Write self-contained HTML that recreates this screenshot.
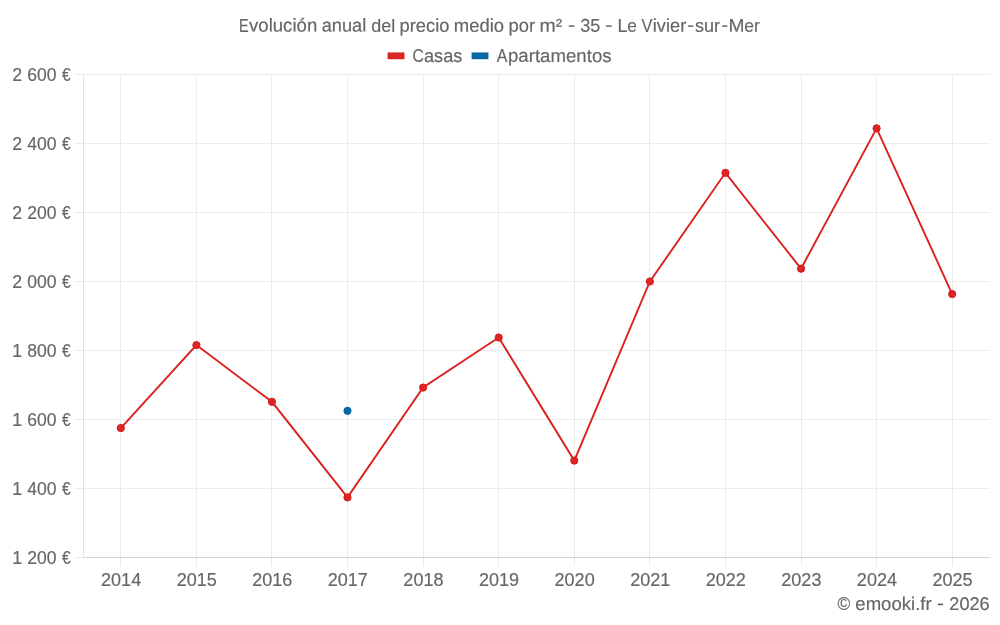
<!DOCTYPE html>
<html lang="es"><head><meta charset="utf-8"><title>Evolución anual del precio medio por m² - 35 - Le Vivier-sur-Mer</title>
<style>html,body{margin:0;padding:0;background:#fff;}body{width:1000px;height:625px;overflow:hidden;}svg{display:block;will-change:transform;}text{font-family:"Liberation Sans",sans-serif;font-size:18.5px;fill:#666;stroke:#666;stroke-width:.17px;}</style></head><body>
<svg width="1000" height="625" viewBox="0 0 1000 625">
<rect width="1000" height="625" fill="#fff"/>
<g shape-rendering="crispEdges" fill="#ececec">
<rect x="120" y="74" width="1" height="492"/>
<rect x="196" y="74" width="1" height="492"/>
<rect x="271" y="74" width="1" height="492"/>
<rect x="347" y="74" width="1" height="492"/>
<rect x="423" y="74" width="1" height="492"/>
<rect x="498" y="74" width="1" height="492"/>
<rect x="574" y="74" width="1" height="492"/>
<rect x="649" y="74" width="1" height="492"/>
<rect x="725" y="74" width="1" height="492"/>
<rect x="801" y="74" width="1" height="492"/>
<rect x="876" y="74" width="1" height="492"/>
<rect x="952" y="74" width="1" height="492"/>
<rect x="75" y="74" width="915" height="1"/>
<rect x="75" y="143" width="915" height="1"/>
<rect x="75" y="212" width="915" height="1"/>
<rect x="75" y="281" width="915" height="1"/>
<rect x="75" y="350" width="915" height="1"/>
<rect x="75" y="419" width="915" height="1"/>
<rect x="75" y="488" width="915" height="1"/>
<rect x="75" y="557" width="915" height="1"/>
<rect x="83" y="74" width="1" height="483" fill="#e3e3e3"/>
<rect x="83" y="74" width="1" height="1" fill="#dfdfdf"/>
<rect x="83" y="557" width="908" height="1"/>
<rect x="83" y="557" width="907" height="1" fill="#d4d4d4"/>
</g>
<text y="31.70" transform="matrix(1 0.0005 0 1 0 -0.2500)"><tspan x="239.10" y="31.70" textLength="9.66" lengthAdjust="spacingAndGlyphs">E</tspan><tspan x="249.00" y="31.70" textLength="68.25" lengthAdjust="spacingAndGlyphs">volución</tspan> <tspan x="321.69" y="31.70" textLength="44.58" lengthAdjust="spacingAndGlyphs">anual</tspan> <tspan x="371.17" y="31.70" textLength="23.99" lengthAdjust="spacingAndGlyphs">del</tspan> <tspan x="399.59" y="31.70" textLength="49.79" lengthAdjust="spacingAndGlyphs">precio</tspan> <tspan x="453.75" y="31.70" textLength="50.33" lengthAdjust="spacingAndGlyphs">medio</tspan> <tspan x="508.54" y="31.70" textLength="26.56" lengthAdjust="spacingAndGlyphs">por</tspan> <tspan x="539.60" y="31.70" textLength="22.72" lengthAdjust="spacingAndGlyphs">m²</tspan> <tspan x="567.91" y="31.00" textLength="7.26" lengthAdjust="spacingAndGlyphs">-</tspan> <tspan x="580.16" y="31.70" textLength="20.14" lengthAdjust="spacingAndGlyphs">35</tspan> <tspan x="604.91" y="31.00" textLength="7.62" lengthAdjust="spacingAndGlyphs">-</tspan> <tspan x="617.60" y="31.70" textLength="9.96" lengthAdjust="spacingAndGlyphs">L</tspan><tspan x="627.34" y="31.70" textLength="9.64" lengthAdjust="spacingAndGlyphs">e</tspan> <tspan x="641.57" y="31.70" textLength="10.94" lengthAdjust="spacingAndGlyphs">V</tspan><tspan x="652.82" y="31.70" textLength="33.39" lengthAdjust="spacingAndGlyphs">ivier</tspan><tspan x="687.17" y="31.00" textLength="6.90" lengthAdjust="spacingAndGlyphs">-</tspan><tspan x="695.05" y="31.70" textLength="25.09" lengthAdjust="spacingAndGlyphs">sur</tspan><tspan x="721.17" y="31.00" textLength="6.90" lengthAdjust="spacingAndGlyphs">-</tspan><tspan x="728.56" y="31.70" textLength="16.04" lengthAdjust="spacingAndGlyphs">M</tspan><tspan x="744.31" y="31.70" textLength="15.55" lengthAdjust="spacingAndGlyphs">er</tspan></text>
<rect x="387.6" y="52.45" width="16.85" height="6.75" fill="#da1c1c"/><rect x="388.6" y="53" width="14.8" height="5" fill="#db2727"/>
<text y="61.90" transform="matrix(1 0.0005 0 1 0 -0.2185)"><tspan x="412.58" y="61.90" textLength="11.31" lengthAdjust="spacingAndGlyphs">C</tspan><tspan x="423.97" y="61.90" textLength="38.46" lengthAdjust="spacingAndGlyphs">asas</tspan></text>
<rect x="471.6" y="52.45" width="16.85" height="6.75" fill="#0565a3"/><rect x="472.6" y="53" width="14.8" height="5" fill="#0769a5"/>
<text y="61.90" transform="matrix(1 0.0005 0 1 0 -0.2770)"><tspan x="496.80" y="61.90" textLength="10.65" lengthAdjust="spacingAndGlyphs">A</tspan><tspan x="507.94" y="61.90" textLength="103.67" lengthAdjust="spacingAndGlyphs">partamentos</tspan></text>
<text y="80.55" transform="matrix(1 0.0005 0 1 0 -0.0210)"><tspan x="12.32" y="80.55" textLength="9.88" lengthAdjust="spacingAndGlyphs">2</tspan> <tspan x="27.13" y="80.55" textLength="29.32" lengthAdjust="spacingAndGlyphs">600</tspan> <tspan x="61.90" y="80.55" textLength="8.66" lengthAdjust="spacingAndGlyphs">€</tspan></text>
<text y="149.55" transform="matrix(1 0.0005 0 1 0 -0.0210)"><tspan x="12.32" y="149.55" textLength="9.88" lengthAdjust="spacingAndGlyphs">2</tspan> <tspan x="27.13" y="149.55" textLength="29.32" lengthAdjust="spacingAndGlyphs">400</tspan> <tspan x="61.90" y="149.55" textLength="8.66" lengthAdjust="spacingAndGlyphs">€</tspan></text>
<text y="218.55" transform="matrix(1 0.0005 0 1 0 -0.0210)"><tspan x="12.32" y="218.55" textLength="9.88" lengthAdjust="spacingAndGlyphs">2</tspan> <tspan x="27.13" y="218.55" textLength="29.32" lengthAdjust="spacingAndGlyphs">200</tspan> <tspan x="61.90" y="218.55" textLength="8.66" lengthAdjust="spacingAndGlyphs">€</tspan></text>
<text y="287.55" transform="matrix(1 0.0005 0 1 0 -0.0210)"><tspan x="12.32" y="287.55" textLength="9.88" lengthAdjust="spacingAndGlyphs">2</tspan> <tspan x="27.13" y="287.55" textLength="29.32" lengthAdjust="spacingAndGlyphs">000</tspan> <tspan x="61.90" y="287.55" textLength="8.66" lengthAdjust="spacingAndGlyphs">€</tspan></text>
<text y="356.55" transform="matrix(1 0.0005 0 1 0 -0.0210)"><tspan x="12.32" y="356.55" textLength="9.88" lengthAdjust="spacingAndGlyphs">1</tspan> <tspan x="27.13" y="356.55" textLength="29.32" lengthAdjust="spacingAndGlyphs">800</tspan> <tspan x="61.90" y="356.55" textLength="8.66" lengthAdjust="spacingAndGlyphs">€</tspan></text>
<text y="425.55" transform="matrix(1 0.0005 0 1 0 -0.0210)"><tspan x="12.32" y="425.55" textLength="9.88" lengthAdjust="spacingAndGlyphs">1</tspan> <tspan x="27.13" y="425.55" textLength="29.32" lengthAdjust="spacingAndGlyphs">600</tspan> <tspan x="61.90" y="425.55" textLength="8.66" lengthAdjust="spacingAndGlyphs">€</tspan></text>
<text y="494.55" transform="matrix(1 0.0005 0 1 0 -0.0210)"><tspan x="12.32" y="494.55" textLength="9.88" lengthAdjust="spacingAndGlyphs">1</tspan> <tspan x="27.13" y="494.55" textLength="29.32" lengthAdjust="spacingAndGlyphs">400</tspan> <tspan x="61.90" y="494.55" textLength="8.66" lengthAdjust="spacingAndGlyphs">€</tspan></text>
<text y="563.55" transform="matrix(1 0.0005 0 1 0 -0.0210)"><tspan x="12.32" y="563.55" textLength="9.88" lengthAdjust="spacingAndGlyphs">1</tspan> <tspan x="27.13" y="563.55" textLength="29.32" lengthAdjust="spacingAndGlyphs">200</tspan> <tspan x="61.90" y="563.55" textLength="8.66" lengthAdjust="spacingAndGlyphs">€</tspan></text>
<text y="585.55" transform="matrix(1 0.0005 0 1 0 -0.0604)"><tspan x="101.05" y="585.55" textLength="40.15" lengthAdjust="spacingAndGlyphs">2014</tspan></text>
<text y="585.55" transform="matrix(1 0.0005 0 1 0 -0.0982)"><tspan x="176.65" y="585.55" textLength="40.15" lengthAdjust="spacingAndGlyphs">2015</tspan></text>
<text y="585.55" transform="matrix(1 0.0005 0 1 0 -0.1360)"><tspan x="252.20" y="585.55" textLength="40.15" lengthAdjust="spacingAndGlyphs">2016</tspan></text>
<text y="585.55" transform="matrix(1 0.0005 0 1 0 -0.1738)"><tspan x="327.75" y="585.55" textLength="40.15" lengthAdjust="spacingAndGlyphs">2017</tspan></text>
<text y="585.55" transform="matrix(1 0.0005 0 1 0 -0.2116)"><tspan x="403.35" y="585.55" textLength="40.15" lengthAdjust="spacingAndGlyphs">2018</tspan></text>
<text y="585.55" transform="matrix(1 0.0005 0 1 0 -0.2493)"><tspan x="478.95" y="585.55" textLength="40.15" lengthAdjust="spacingAndGlyphs">2019</tspan></text>
<text y="585.55" transform="matrix(1 0.0005 0 1 0 -0.2871)"><tspan x="554.55" y="585.55" textLength="40.15" lengthAdjust="spacingAndGlyphs">2020</tspan></text>
<text y="585.55" transform="matrix(1 0.0005 0 1 0 -0.3250)"><tspan x="630.15" y="585.55" textLength="40.15" lengthAdjust="spacingAndGlyphs">2021</tspan></text>
<text y="585.55" transform="matrix(1 0.0005 0 1 0 -0.3627)"><tspan x="705.70" y="585.55" textLength="40.15" lengthAdjust="spacingAndGlyphs">2022</tspan></text>
<text y="585.55" transform="matrix(1 0.0005 0 1 0 -0.4005)"><tspan x="781.30" y="585.55" textLength="40.15" lengthAdjust="spacingAndGlyphs">2023</tspan></text>
<text y="585.55" transform="matrix(1 0.0005 0 1 0 -0.4383)"><tspan x="856.85" y="585.55" textLength="40.15" lengthAdjust="spacingAndGlyphs">2024</tspan></text>
<text y="585.55" transform="matrix(1 0.0005 0 1 0 -0.4761)"><tspan x="932.45" y="585.55" textLength="40.15" lengthAdjust="spacingAndGlyphs">2025</tspan></text>
<text y="609.95" transform="matrix(1 0.0005 0 1 0 -0.4565)"><tspan x="837.44" y="609.95" textLength="12.74" lengthAdjust="spacingAndGlyphs">©</tspan> <tspan x="855.31" y="609.95" textLength="76.40" lengthAdjust="spacingAndGlyphs">emooki.fr</tspan> <tspan x="937.14" y="609.25" textLength="6.90" lengthAdjust="spacingAndGlyphs">-</tspan> <tspan x="949.30" y="609.95" textLength="40.36" lengthAdjust="spacingAndGlyphs">2026</tspan></text>
<polyline points="120.8,428.05 196.4,345.1 271.95,401.8 347.5,497.4 423.1,387.55 498.7,337.5 574.3,460.6 649.9,281.5 725.45,172.8 801.05,268.7 876.6,128.3 952.2,294.05" fill="none" stroke="#da2020" stroke-width="1.9" stroke-linejoin="miter"/>
<g fill="#dc2626" stroke="#d91818" stroke-width="1">
<circle cx="120.8" cy="428.05" r="3.6"/>
<circle cx="196.4" cy="345.1" r="3.6"/>
<circle cx="271.95" cy="401.8" r="3.6"/>
<circle cx="347.5" cy="497.4" r="3.6"/>
<circle cx="423.1" cy="387.55" r="3.6"/>
<circle cx="498.7" cy="337.5" r="3.6"/>
<circle cx="574.3" cy="460.6" r="3.6"/>
<circle cx="649.9" cy="281.5" r="3.6"/>
<circle cx="725.45" cy="172.8" r="3.6"/>
<circle cx="801.05" cy="268.7" r="3.6"/>
<circle cx="876.6" cy="128.3" r="3.6"/>
<circle cx="952.2" cy="294.05" r="3.6"/>
</g>
<circle cx="347.5" cy="410.85" r="3.6" fill="#0769a5" stroke="#0566a3" stroke-width="1"/>
</svg></body></html>
